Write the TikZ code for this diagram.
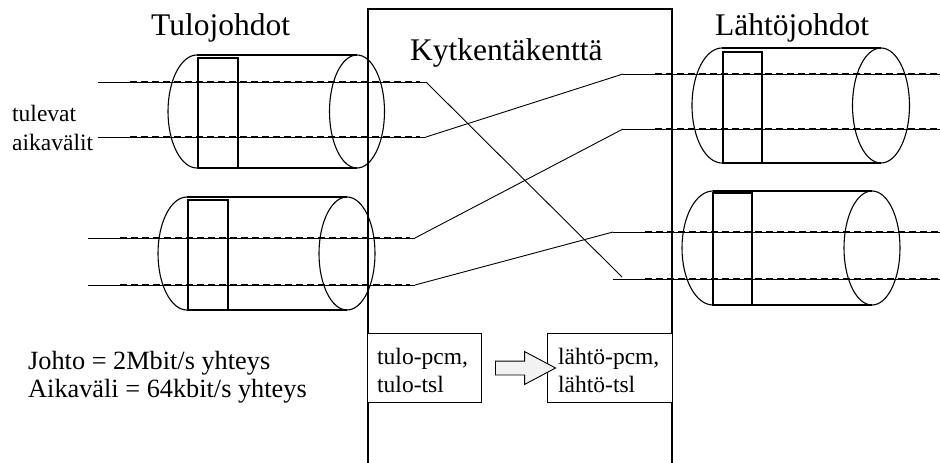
\documentclass[tikz,border=0pt]{standalone}
\usepackage{fontspec}
\setmainfont{Liberation Serif}
\usetikzlibrary{shapes.arrows}
\begin{document}
\begin{tikzpicture}[x=1pt,y=-1pt,
  wire/.style={line width=0.9pt},
  dashwire/.style={line width=2pt, dash pattern=on 7pt off 4pt},
  shell/.style={line width=1.1pt},
  lbl/.style={inner sep=0pt, anchor=base west},
  big/.style={font=\fontsize{31.5}{36}\selectfont},
  small/.style={font=\fontsize{23.5}{28}\selectfont},
  note/.style={font=\fontsize{26.3}{30}\selectfont},
  bx/.style={draw, line width=1.1pt, fill=white, inner sep=0pt, anchor=north west}]
\useasboundingbox (0,0) rectangle (940,463);

% switching field frame (open at the bottom)
\draw[shell] (368,463) -- (368,9) -- (672,9) -- (672,463);

% incoming trunk, upper
\draw[shell] (197,55) arc[start angle=270, end angle=90, x radius=29, y radius=56.5];
\draw[shell] (197,55) -- (357,55) (197,168) -- (357,168);
\draw[shell] (357,111.5) ellipse[x radius=27.5, y radius=56.5];
\draw[shell] (198,58) rectangle (238,168);

% incoming trunk, lower
\draw[shell] (187,197) arc[start angle=270, end angle=90, x radius=29, y radius=56.5];
\draw[shell] (187,197) -- (347,197) (187,310) -- (347,310);
\draw[shell] (347,253.5) ellipse[x radius=28, y radius=56.5];
\draw[shell] (188,200) rectangle (228,310);

% outgoing trunk, upper
\draw[shell] (722,48) arc[start angle=270, end angle=90, x radius=30, y radius=57.5];
\draw[shell] (722,48) -- (881,48) (722,163) -- (881,163);
\draw[shell] (881,105.5) ellipse[x radius=28.5, y radius=57.5];
\draw[shell] (723,52) rectangle (762,163);

% outgoing trunk, lower
\draw[shell] (713,191) arc[start angle=270, end angle=90, x radius=31, y radius=57];
\draw[shell] (713,191) -- (872,191) (713,305) -- (872,305);
\draw[shell] (872,248) ellipse[x radius=28, y radius=57];
\draw[shell] (713,193) rectangle (752,305);

% time slot line end points
\coordinate (a1s) at (98,82);   \coordinate (a1e) at (426,82);
\coordinate (a2s) at (98,137);  \coordinate (a2e) at (426,137);
\coordinate (b1s) at (88,238);  \coordinate (b1e) at (415,238);
\coordinate (b2s) at (88,285);  \coordinate (b2e) at (415,285);
\coordinate (c1s) at (623,74);  \coordinate (c1e) at (940,74);
\coordinate (c2s) at (623,129); \coordinate (c2e) at (940,129);
\coordinate (d1s) at (613,232); \coordinate (d1e) at (940,232);
\coordinate (d2s) at (613,279); \coordinate (d2e) at (940,279);
\coordinate (x2) at (622,277);

% time slots
\draw[wire] (a1s) -- (a1e) (a2s) -- (a2e);
\draw[dashwire] (130,82) -- (420,82) (130,137) -- (420,137);
\draw[wire] (b1s) -- (b1e) (b2s) -- (b2e);
\draw[dashwire] (120,238) -- (410,238) (120,285) -- (410,285);
\draw[wire] (c1s) -- (c1e) (c2s) -- (c2e);
\draw[dashwire] (655,74) -- (940,74) (655,129) -- (940,129);
\draw[wire] (d1s) -- (d1e) (d2s) -- (d2e);
\draw[dashwire] (645,232) -- (940,232) (645,279) -- (940,279);

% switching connections
\draw[wire] (a1e) -- (x2);
\draw[wire] (a2e) -- (c1s);
\draw[wire] (b1e) -- (c2s);
\draw[wire] (b2e) -- (d1s);

% headings
\node[lbl, big] (tulo) at (151,35) {Tulojohdot};
\node[lbl, big] (kk) at (410,60) {Kytkentäkenttä};
\node[lbl, big] (lahto) at (715,35) {Lähtöjohdot};

\node[lbl, small] (tul1) at (12,121) {tulevat};
\node[lbl, small] (tul2) at (12,150) {aikavälit};

\node[lbl, note] (n1) at (28,369) {Johto = 2Mbit/s yhteys};
\node[lbl, note] (n2) at (28,397) {Aikaväli = 64kbit/s yhteys};

% address boxes
\node[bx, minimum width=114, minimum height=69] (tin) at (367,333) {};
\node[bx, minimum width=125, minimum height=69] (tout) at (547,333) {};
\node[lbl, small] at (377,364) {tulo-pcm,};
\node[lbl, small] at (377,392) {tulo-tsl};
\node[lbl, small] at (558,364) {lähtö-pcm,};
\node[lbl, small] at (558,392) {lähtö-tsl};

\node[single arrow, draw, line width=0.9pt, fill=gray!10, inner sep=0pt,
  minimum height=60, single arrow head extend=9.5, single arrow tip angle=56,
  text height=13pt, text depth=0pt, text width=0pt] (arr) at (519,368) {};
\end{tikzpicture}
\end{document}
